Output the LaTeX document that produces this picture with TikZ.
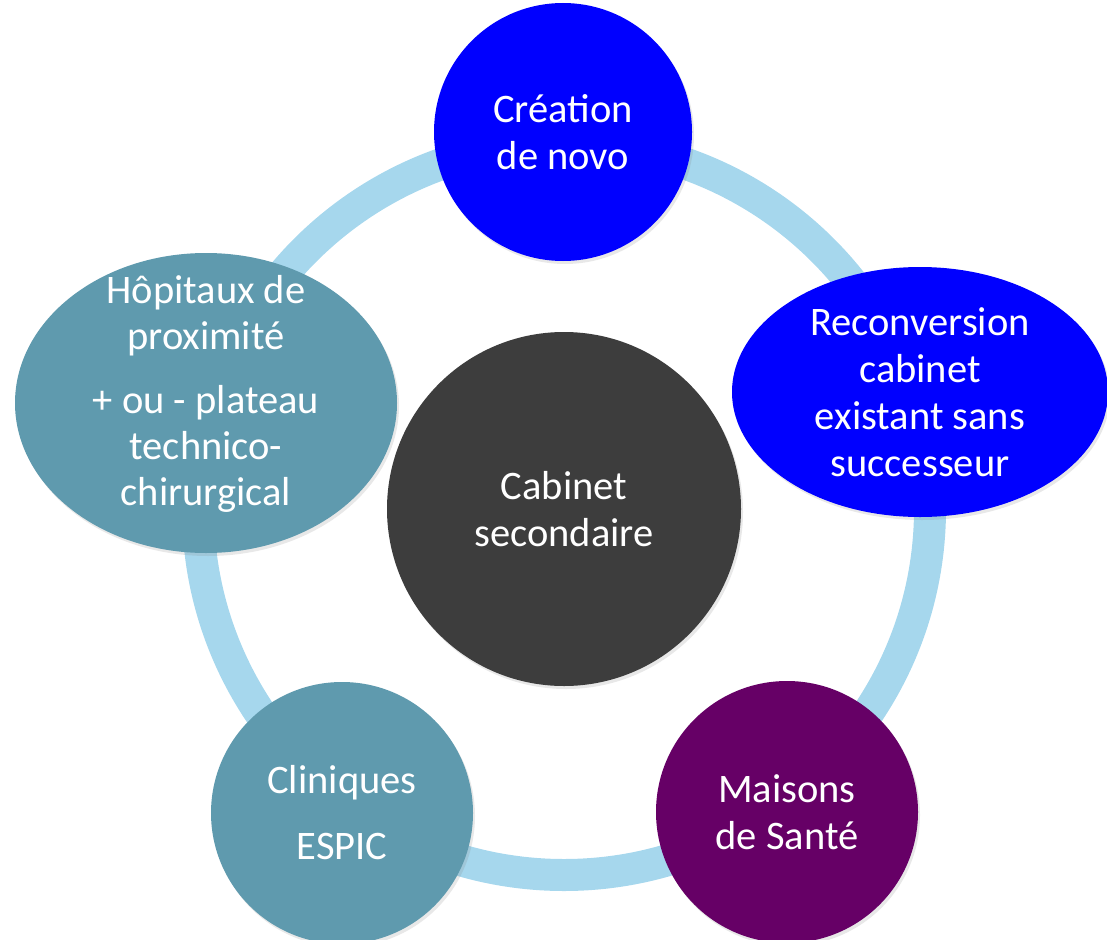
\documentclass[tikz,border=0pt]{standalone}
\usepackage{fontspec}
\setmainfont{Carlito}
\usetikzlibrary{shapes.geometric,shadows}
\definecolor{ringblue}{RGB}{166,215,237}
\definecolor{puretblue}{RGB}{0,0,255}
\definecolor{tealgrey}{RGB}{95,154,174}
\definecolor{plum}{RGB}{102,0,102}
\definecolor{darkhub}{RGB}{61,61,61}
\begin{document}
\begin{tikzpicture}[x=1pt,y=-1pt,
  bubble/.style={circle,inner sep=0pt,text=white,align=center,
    font=\fontsize{40.5}{47}\selectfont,
    drop shadow={opacity=0.18,shadow xshift=2pt,shadow yshift=-3pt}},
  oval/.style={bubble,ellipse},
  ringline/.style={draw=ringblue,line width=32pt}]
\path[use as bounding box] (0,0) rectangle (1107,939);
\coordinate (hub) at (564,509);
\draw[ringline] (hub) circle[radius=366];
\node[bubble,fill=darkhub,minimum size=354pt] (cabinet) at (hub) {Cabinet\\secondaire};
\node[bubble,fill=puretblue,minimum size=258pt] (creation) at (563,132) {Création\\de novo};
\node[oval,fill=puretblue,minimum width=376pt,minimum height=250pt] (reconversion) at (920,392)
  {Reconversion\\cabinet\\existant sans\\successeur};
\node[bubble,fill=plum,minimum size=262pt] (maisons) at (787,812) {Maisons\\de Santé};
\node[bubble,fill=tealgrey,minimum size=262pt] (cliniques) at (342,813) {Cliniques\\[19pt]ESPIC};
\node[oval,fill=tealgrey,minimum width=382pt,minimum height=300pt] (hopitaux) at (206,403) {};
\node[text=white,align=center,font=\fontsize{40.5}{46}\selectfont] (hopitauxtxt) at (206,394)
  {Hôpitaux de\\proximité\\[18pt]+ ou - plateau\\technico-\\chirurgical};
\end{tikzpicture}
\end{document}
